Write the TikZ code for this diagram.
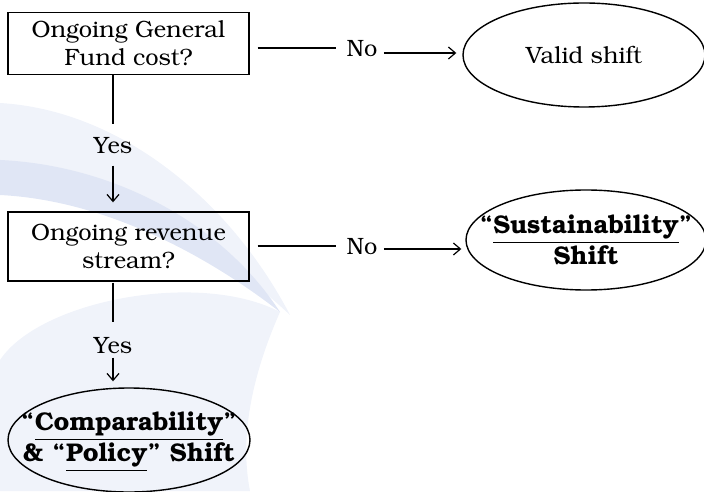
\documentclass[tikz,border=0pt]{standalone}
\usepackage[T1]{fontenc}
\usepackage{bookman}
\usepackage{xcolor}
\usetikzlibrary{shapes.geometric,arrows.meta}

\definecolor{wmark}{RGB}{224,230,245}
\definecolor{wmarklight}{RGB}{240,243,250}

\begin{document}
\begin{tikzpicture}
[
  x=0.5pt,y=-0.5pt,
	font=\fontsize{11.8}{14}\selectfont,
	box/.style={draw,line width=0.7pt,minimum width=120.5pt,align=center,inner sep=0pt},
	oval/.style={draw,ellipse,line width=0.7pt,inner sep=0pt,align=center},
	heavy/.style={font=\fontsize{12.8}{14}\selectfont\bfseries,align=center,inner sep=0pt},
	lbl/.style={inner sep=0pt},
	stem/.style={line width=1pt},
	pointer/.style={-{Straight Barb[length=3.5pt,width=6pt]},line width=0.6pt}
]
\useasboundingbox (0,0) rectangle (704,491);

% faint background swooshes
\fill[wmarklight] (0,491) -- (0,360) .. controls (40,300) and (200,270) .. (280,312) .. controls (250,380) and (240,440) .. (250,491) -- cycle;
\fill[wmarklight] (0,103) .. controls (120,110) and (230,200) .. (290,315) .. controls (220,250) and (120,180) .. (0,160) -- cycle;
\fill[wmark] (0,160) .. controls (110,165) and (220,220) .. (280,312) .. controls (200,250) and (100,200) .. (0,195) -- cycle;

\node[box,minimum height=31pt] (fundcost) at (128.5,43.5) {Ongoing General\\ Fund cost?};
\node[box,minimum height=34.5pt] (revenue) at (128.5,246.5) {Ongoing revenue\\ stream?};

\node[oval,minimum width=121pt,minimum height=52pt] (valid) at (584,55) {Valid shift};
\node[oval,minimum width=120pt,minimum height=50pt,
  label={[heavy]center:{``\underline{Sustainability}''\\ Shift}}] (sustain) at (586,240) {};
\node[oval,minimum width=121pt,minimum height=52pt,
  label={[heavy,yshift=-1pt]center:{``\underline{Comparability}''\\ \& ``\underline{Policy}'' Shift}}] (compare) at (129,440) {};

\node[lbl] (no1) at (362,48) {No};
\node[lbl] (no2) at (362,246) {No};
\node[lbl] (yes1) at (113,145) {Yes};
\node[lbl] (yes2) at (113,345) {Yes};

\draw[stem,shorten <=4pt,shorten >=5pt] (fundcost.east |- no1) -- (no1.west);
\draw[pointer,shorten <=3pt,shorten >=3pt] ([yshift=-2.5pt]no1.east) -- ([yshift=-2.5pt]no1.east -| valid.west);

\draw[stem,shorten <=4pt,shorten >=5pt] (revenue.east |- no2) -- (no2.west);
\draw[pointer,shorten <=3pt,shorten >=2pt] ([yshift=-1.5pt]no2.east) -- ([yshift=-1.5pt]no2.east -| sustain.west);

\draw[stem,shorten >=6pt] (fundcost.south -| yes1) -- (yes1.north);
\draw[pointer,shorten <=6pt,shorten >=4.5pt] (yes1.south) -- (yes1.south |- revenue.north);

\draw[stem,shorten <=0.5pt,shorten >=7pt] (revenue.south -| yes2) -- (yes2.north);
\draw[pointer,shorten <=2pt,shorten >=3pt] (yes2.south) -- (yes2.south |- compare.north);
\end{tikzpicture}
\end{document}
